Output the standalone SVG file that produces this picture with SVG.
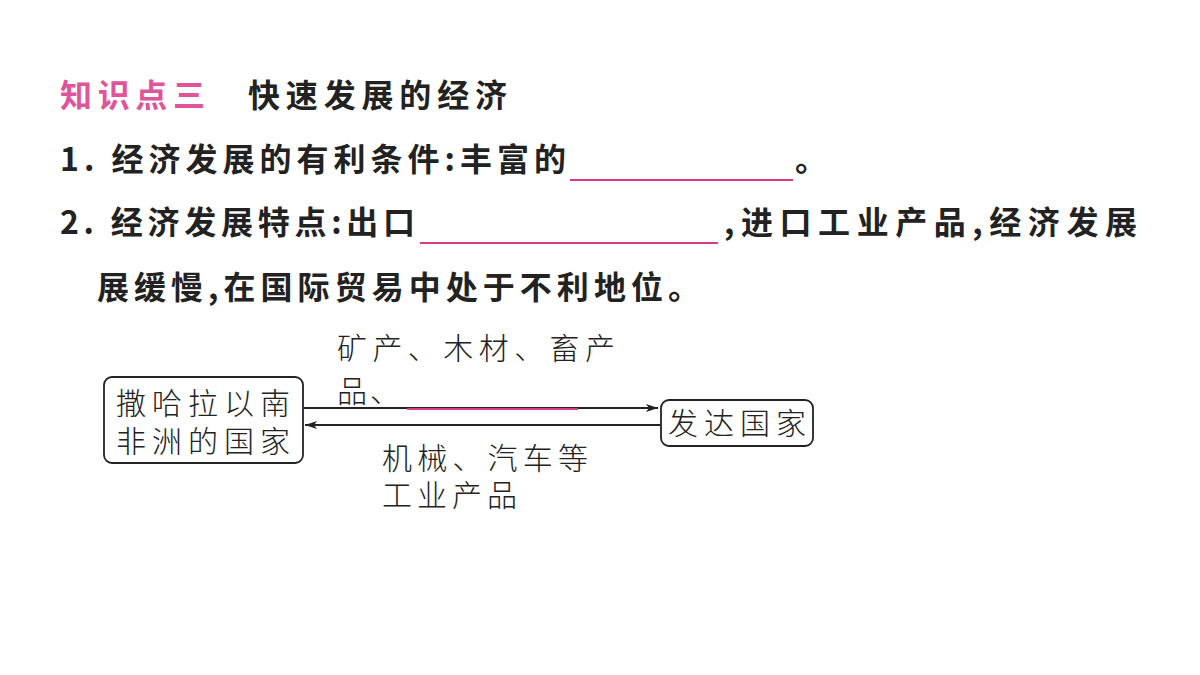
<svg xmlns="http://www.w3.org/2000/svg" width="1200" height="675" viewBox="0 0 1200 675">
<style>
.h{font-family:"Noto Sans CJK SC","Noto Sans",sans-serif;font-size:32px;font-weight:700;fill:#222}
.p{fill:#e0559a}
.d{font-family:"Noto Sans CJK SC","Noto Sans",sans-serif;font-size:30px;font-weight:300;fill:#222}
.u{stroke:#d83a8a;stroke-width:2}
.b{fill:#fff;stroke:#222;stroke-width:1.8}
.a{stroke:#222;stroke-width:1.8;fill:none}
</style>
<defs><marker id="m" markerWidth="12" markerHeight="8" refX="12" refY="4" orient="auto" markerUnits="userSpaceOnUse"><path d="M0,0 L12,4 L0,8 L3,4Z" fill="#222"/></marker></defs>
<rect width="1200" height="675" fill="#fff"/>
<text class="h p" x="60" y="107" textLength="145" lengthAdjust="spacing">知识点三</text>
<text class="h" x="248" y="107" textLength="259" lengthAdjust="spacing">快速发展的经济</text>
<text class="h" x="60" y="171" textLength="506" lengthAdjust="spacing">1. 经济发展的有利条件:丰富的</text>
<line class="u" x1="570" y1="180" x2="793" y2="180"/>
<text class="h" x="795" y="171">。</text>
<text class="h" x="60" y="234" textLength="355" lengthAdjust="spacing">2. 经济发展特点:出口</text>
<line class="u" x1="420" y1="243" x2="718" y2="243"/>
<text class="h" x="724" y="234" textLength="413" lengthAdjust="spacing">,进口工业产品,经济发展</text>
<text class="h" x="97" y="299" textLength="603" lengthAdjust="spacing">展缓慢,在国际贸易中处于不利地位。</text>
<g id="n1"><rect class="b" x="104" y="377" width="199" height="86" rx="8"/>
<text class="d" x="116" y="414" textLength="174" lengthAdjust="spacing">撒哈拉以南</text><text class="d" x="116" y="452" textLength="174" lengthAdjust="spacing">非洲的国家</text></g>
<g id="n2"><rect class="b" x="661" y="400" width="152" height="46" rx="8"/>
<text class="d" x="668" y="434" textLength="138" lengthAdjust="spacing">发达国家</text></g>
<g id="edges">
<line class="a" x1="304" y1="408" x2="658" y2="408" marker-end="url(#m)"/>
<line class="a" x1="660" y1="425" x2="305" y2="425" marker-end="url(#m)"/>
</g>
<text class="d" x="337" y="359" textLength="278" lengthAdjust="spacing">矿产、木材、畜产</text>
<text class="d" x="337" y="402" textLength="63" lengthAdjust="spacing">品、</text>
<line class="u" x1="407" y1="409" x2="578" y2="409"/>
<text class="d" x="382" y="469" textLength="206" lengthAdjust="spacing">机械、汽车等</text>
<text class="d" x="382" y="506" textLength="135" lengthAdjust="spacing">工业产品</text>
</svg>
